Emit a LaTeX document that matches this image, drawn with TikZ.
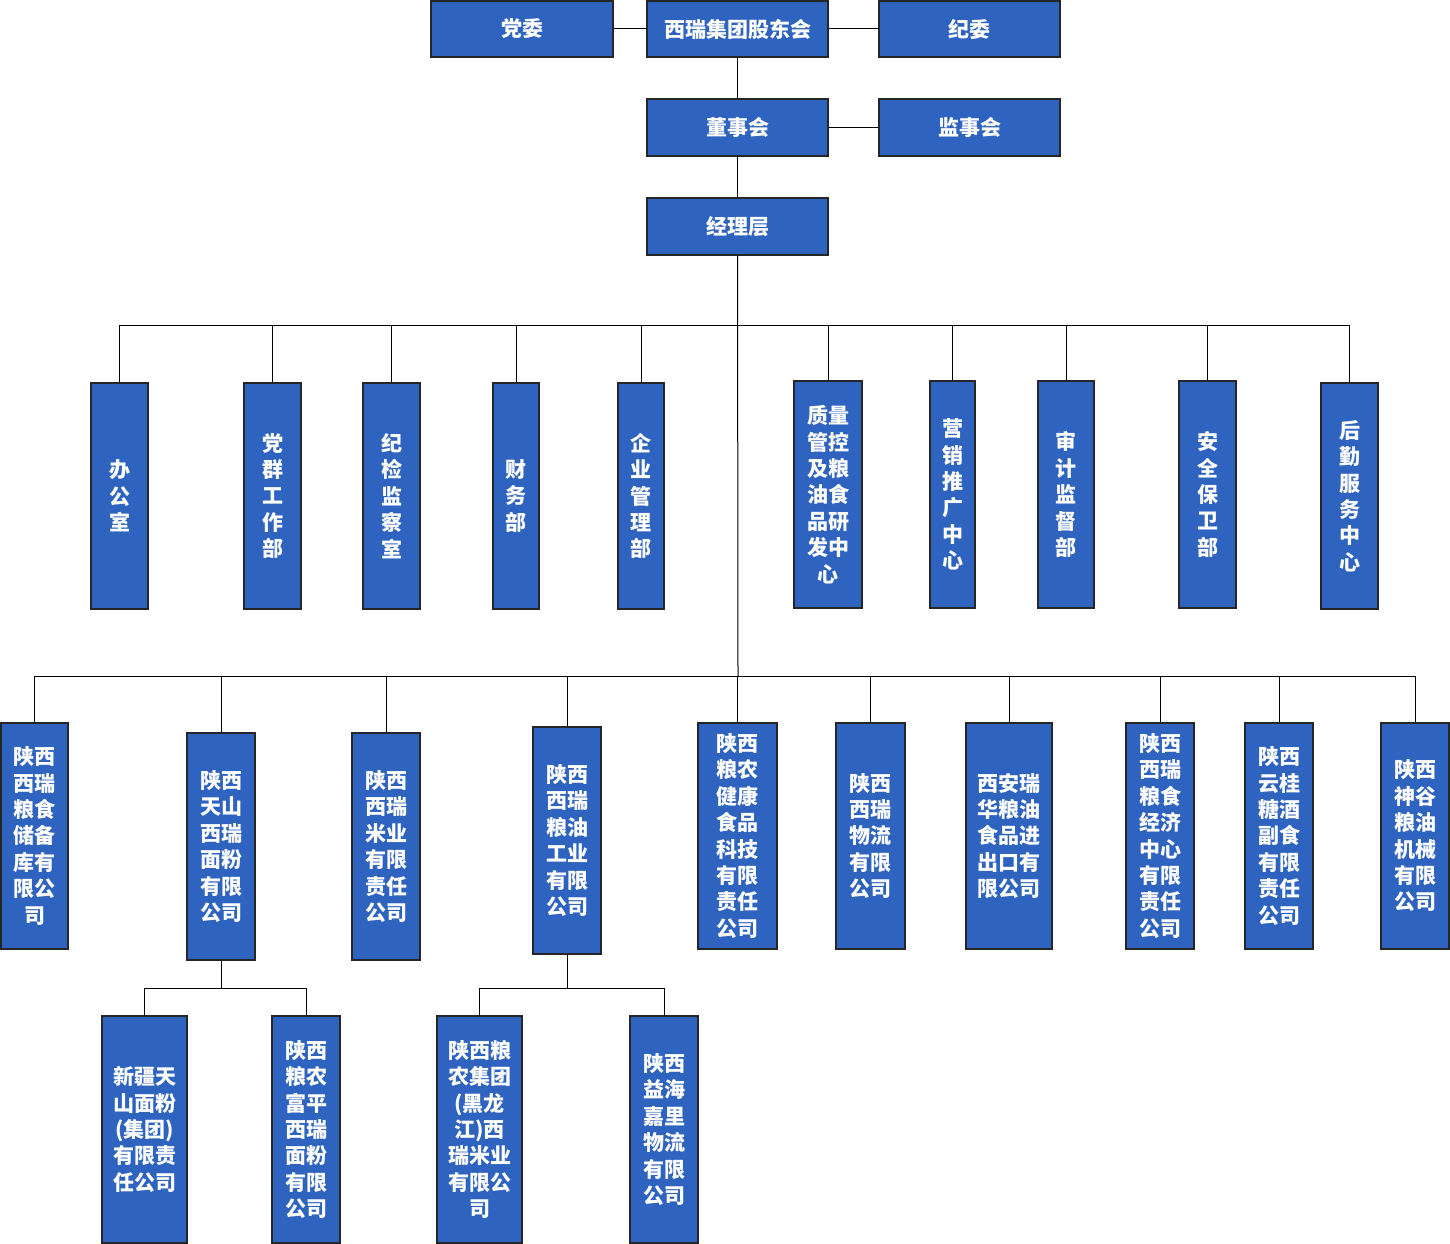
\documentclass[tikz,border=0pt]{standalone}
\usepackage{fontspec}
\setmainfont{Noto Sans CJK SC}
\definecolor{boxblue}{RGB}{46,99,192}
\begin{document}
\begin{tikzpicture}[x=1pt,y=-1pt,
  box/.style={draw=black!85,line width=1.2pt,fill=boxblue,text=white,
    font=\bfseries\fontsize{21}{26.4}\selectfont,align=center,inner sep=0pt},
  conn/.style={draw=black,line width=1pt}]
\useasboundingbox (0,0) rectangle (1450,1244);
% top levels
\node[box,minimum width=182pt,minimum height=56pt] (dangwei) at (522,29) {党委};
\node[box,minimum width=181pt,minimum height=56pt] (gudong) at (737.5,29) {西瑞集团股东会};
\node[box,minimum width=181pt,minimum height=56pt] (jiwei) at (969.5,29) {纪委};
\node[box,minimum width=181pt,minimum height=57pt] (dongshi) at (737.5,127.5) {董事会};
\node[box,minimum width=181pt,minimum height=57pt] (jianshi) at (969.5,127.5) {监事会};
\node[box,minimum width=181pt,minimum height=57pt] (jingli) at (737.5,226.5) {经理层};
\draw[conn] (dangwei) -- (gudong);
\draw[conn] (gudong) -- (jiwei);
\draw[conn] (gudong) -- (dongshi);
\draw[conn] (dongshi) -- (jianshi);
\draw[conn] (dongshi) -- (jingli);
% departments
\node[box,minimum width=57pt,minimum height=226pt] (d1) at (119.5,496) {办\\公\\室};
\node[box,minimum width=57pt,minimum height=226pt] (d2) at (272.5,496) {党\\群\\工\\作\\部};
\node[box,minimum width=57pt,minimum height=226pt] (d3) at (391.5,496) {纪\\检\\监\\察\\室};
\node[box,minimum width=46pt,minimum height=226pt] (d4) at (516,496) {财\\务\\部};
\node[box,minimum width=46pt,minimum height=226pt] (d5) at (641,496) {企\\业\\管\\理\\部};
\node[box,minimum width=68pt,minimum height=227pt] (d6) at (828,494.5) {质量\\管控\\及粮\\油食\\品研\\发中\\心};
\node[box,minimum width=45pt,minimum height=227pt] (d7) at (952.5,494.5) {营\\销\\推\\广\\中\\心};
\node[box,minimum width=56pt,minimum height=227pt] (d8) at (1066,494.5) {审\\计\\监\\督\\部};
\node[box,minimum width=57pt,minimum height=227pt] (d9) at (1207.5,494.5) {安\\全\\保\\卫\\部};
\node[box,minimum width=57pt,minimum height=226pt] (d10) at (1349.5,496) {后\\勤\\服\\务\\中\\心};
\coordinate (busA) at (738,325);
\foreach \n in {d1,d2,d3,d4,d5,d6,d7,d8,d9,d10}
  \draw[conn] (\n.north) |- (busA);
% companies
\node[box,minimum width=67pt,minimum height=226pt] (c1) at (34.5,836) {陕西\\西瑞\\粮食\\储备\\库有\\限公\\司};
\node[box,minimum width=68pt,minimum height=227pt] (c2) at (221,846.5) {陕西\\天山\\西瑞\\面粉\\有限\\公司};
\node[box,minimum width=68pt,minimum height=227pt] (c3) at (386,846.5) {陕西\\西瑞\\米业\\有限\\责任\\公司};
\node[box,minimum width=68pt,minimum height=227pt] (c4) at (567,840.5) {陕西\\西瑞\\粮油\\工业\\有限\\公司};
\node[box,minimum width=79pt,minimum height=226pt] (c5) at (737.5,836) {陕西\\粮农\\健康\\食品\\科技\\有限\\责任\\公司};
\node[box,minimum width=69pt,minimum height=226pt] (c6) at (870.5,836) {陕西\\西瑞\\物流\\有限\\公司};
\node[box,minimum width=86pt,minimum height=226pt] (c7) at (1009,836) {西安瑞\\华粮油\\食品进\\出口有\\限公司};
\node[box,minimum width=68pt,minimum height=226pt] (c8) at (1160,836) {陕西\\西瑞\\粮食\\经济\\中心\\有限\\责任\\公司};
\node[box,minimum width=68pt,minimum height=226pt] (c9) at (1279,836) {陕西\\云桂\\糖酒\\副食\\有限\\责任\\公司};
\node[box,minimum width=68pt,minimum height=226pt] (c10) at (1415,836) {陕西\\神谷\\粮油\\机械\\有限\\公司};
\coordinate (busB) at (738,676);
\draw[conn] (jingli) -- (busB);
\foreach \n in {c1,c2,c3,c4,c5,c6,c7,c8,c9,c10}
  \draw[conn] (\n.north) |- (busB);
% subsidiaries
\node[box,minimum width=85pt,minimum height=227pt] (s1) at (144.5,1129.5) {新疆天\\山面粉\\(集团)\\有限责\\任公司};
\node[box,minimum width=68pt,minimum height=227pt] (s2) at (306,1129.5) {陕西\\粮农\\富平\\西瑞\\面粉\\有限\\公司};
\node[box,minimum width=85pt,minimum height=227pt] (s3) at (479.5,1129.5) {陕西粮\\农集团\\(黑龙\\江)西\\瑞米业\\有限公\\司};
\node[box,minimum width=68pt,minimum height=227pt] (s4) at (664,1129.5) {陕西\\益海\\嘉里\\物流\\有限\\公司};
\coordinate (busC) at (221,988);
\coordinate (busD) at (567,988);
\draw[conn] (c2.south) -- (busC);
\draw[conn] (s1.north) |- (busC);
\draw[conn] (s2.north) |- (busC);
\draw[conn] (c4.south) -- (busD);
\draw[conn] (s3.north) |- (busD);
\draw[conn] (s4.north) |- (busD);
\end{tikzpicture}
\end{document}
